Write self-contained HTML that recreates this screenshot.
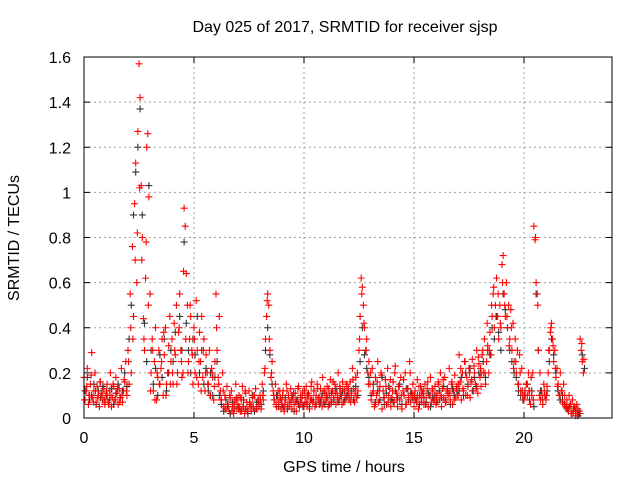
<!DOCTYPE html>
<html><head><meta charset="utf-8"><style>
body{margin:0;background:#fff}
svg{display:block;font-family:"Liberation Sans",sans-serif}
</style></head><body>
<svg id="chart" width="640" height="480">
<text x="345" y="32" font-size="16" text-anchor="middle">Day 025 of 2017, SRMTID for receiver sjsp</text>
<text x="344" y="472" font-size="16" text-anchor="middle">GPS time / hours</text>
<text x="19" y="238" font-size="16" text-anchor="middle" transform="rotate(-90 19 238)">SRMTID / TECUs</text>
<g id="grid"></g>
<g id="ticks"></g>
<g id="black"></g>
<g id="red"></g>
<rect x="84" y="57" width="528" height="361" fill="none" stroke="#000" stroke-width="1"/>
</svg>
<script>
const xTicks=[0,5,10,15,20];
const yTicks=[0,0.2,0.4,0.6,0.8,1,1.2,1.4,1.6];
const yTickLabels=["0","0.2","0.4","0.6","0.8","1","1.2","1.4","1.6"];
const redStep=0.05, redStart=0;
const redValues=[.18,.08,.12,.22,.06,.1,.15,.29,.09,.12,.2,.07,.14,.1,.05,.16,.11,.08,.13,.06,
.1,.15,.07,.12,.2,.05,.09,.14,.08,.18,.11,.06,.13,.09,.22,.07,.12,.16,.25,.1,
.3,.15,.55,.2,.76,.45,.95,1.13,.6,1.27,1.57,1.42,1.03,.8,.44,.3,.62,1.2,1.26,.98,
.55,.2,.35,.12,.25,.4,.08,.18,.3,.15,.22,.35,.1,.28,.4,.15,.2,.32,.45,.25,
.35,.15,.42,.28,.5,.2,.38,.55,.3,.18,.2,.93,.85,.64,.5,.25,.35,.45,.3,.15,
.4,.2,.52,.3,.15,.38,.25,.45,.18,.35,.12,.28,.2,.15,.3,.1,.22,.18,.08,.25,
.55,.3,.18,.45,.12,.08,.2,.05,.1,.04,.14,.06,.03,.09,.12,.05,.02,.08,.15,.04,
.06,.1,.03,.08,.14,.05,.02,.11,.07,.04,.12,.06,.03,.09,.05,.1,.13,.04,.08,.06,
.1,.04,.15,.08,.2,.35,.45,.55,.5,.3,.18,.25,.12,.08,.15,.05,.1,.07,.12,.04,
.06,.12,.03,.08,.15,.05,.1,.07,.13,.04,.09,.06,.11,.03,.08,.14,.05,.1,.07,.12,
.05,.09,.14,.06,.11,.04,.08,.16,.07,.12,.05,.1,.15,.08,.06,.13,.09,.18,.07,.11,
.08,.14,.05,.1,.17,.07,.12,.09,.15,.06,.11,.2,.08,.13,.1,.16,.07,.12,.09,.14,
.11,.08,.16,.1,.22,.13,.07,.18,.09,.12,.3,.45,.62,.58,.5,.4,.3,.35,.2,.25,
.15,.08,.22,.12,.05,.18,.1,.25,.07,.14,.2,.04,.12,.09,.17,.06,.22,.1,.13,.05,
.09,.16,.07,.23,.11,.05,.14,.08,.18,.04,.12,.1,.2,.06,.13,.09,.25,.07,.11,.15,
.05,.12,.08,.17,.04,.1,.14,.07,.11,.06,.15,.09,.13,.05,.1,.18,.07,.12,.08,.14,
.06,.11,.16,.08,.2,.05,.13,.09,.18,.07,.12,.1,.22,.08,.15,.06,.12,.19,.09,.14,
.1,.28,.16,.08,.2,.12,.25,.1,.18,.14,.22,.09,.16,.26,.12,.2,.15,.3,.11,.24,
.18,.14,.28,.2,.35,.15,.25,.32,.2,.38,.28,.45,.55,.4,.5,.62,.45,.35,.5,.4,
.68,.72,.55,.45,.6,.4,.5,.35,.48,.3,.42,.25,.35,.2,.3,.15,.28,.12,.22,.1,
.08,.12,.15,.1,.2,.12,.06,.1,.2,.85,.79,.6,.55,.3,.1,.08,.12,.06,.15,.1,
.08,.14,.2,.3,.38,.42,.35,.25,.3,.18,.22,.15,.1,.2,.12,.07,.15,.1,.05,.08,
.04,.1,.06,.02,.08,.03,.05,.01,.06,.04,.02,.35,.3,.25,.2];
const redBStep=0.1, redBStart=0.025;
const redBValues=[.08,.14,.1,.19,.07,.12,.09,.16,.11,.08,
.12,.06,.1,.15,.08,.13,.07,.1,.17,.12,
.25,.4,.35,.7,.82,1.02,.7,.35,.78,.5,
.12,.3,.08,.2,.15,.25,.38,.1,.2,.15,
.2,.3,.15,.4,.25,.65,.35,.2,.5,.28,
.35,.18,.25,.12,.3,.2,.15,.1,.2,.14,
.4,.15,.08,.12,.04,.06,.1,.03,.06,.08,
.04,.09,.05,.12,.03,.07,.05,.1,.04,.08,
.08,.1,.22,.52,.35,.2,.1,.06,.12,.09,
.1,.06,.12,.05,.08,.11,.07,.13,.06,.1,
.12,.07,.1,.14,.08,.06,.13,.09,.05,.12,
.1,.13,.07,.16,.11,.09,.14,.06,.12,.15,
.13,.07,.17,.11,.2,.35,.55,.42,.3,.15,
.2,.11,.06,.16,.12,.19,.09,.14,.07,.17,
.12,.2,.08,.14,.1,.17,.06,.13,.2,.1,
.1,.07,.14,.09,.12,.06,.16,.1,.13,.08,
.09,.15,.1,.17,.07,.13,.11,.16,.08,.13,
.15,.22,.13,.25,.1,.2,.17,.23,.13,.27,
.22,.3,.2,.42,.3,.5,.58,.45,.55,.42,
.6,.5,.45,.32,.4,.22,.25,.15,.2,.12,
.1,.15,.12,.18,.08,.8,.5,.2,.1,.12,
.1,.3,.4,.32,.22,.14,.1,.12,.06,.05,
.03,.06,.02,.04,.02,.03,.33,.26];
const blackStep=0.1, blackStart=0.05;
const blackValues=[.12,.18,.08,.1,.15,.06,.12,.09,.14,.07,
.1,.08,.13,.06,.11,.15,.09,.12,.2,.14,
.35,.5,.9,1.09,1.2,1.37,.9,.42,.25,1.03,
.3,.15,.22,.1,.28,.18,.35,.12,.2,.3,
.25,.38,.2,.45,.3,.78,.42,.3,.2,.35,
.28,.45,.2,.3,.15,.22,.12,.2,.1,.18,
.25,.1,.06,.03,.08,.05,.02,.07,.04,.09,
.05,.03,.08,.04,.02,.06,.1,.03,.07,.05,
.06,.12,.3,.4,.28,.15,.08,.1,.05,.08,
.05,.09,.04,.07,.1,.03,.08,.06,.09,.05,
.07,.1,.05,.08,.12,.06,.09,.07,.11,.06,
.09,.06,.11,.08,.13,.07,.1,.12,.08,.1,
.09,.12,.08,.14,.1,.25,.4,.28,.22,.18,
.1,.15,.07,.12,.08,.18,.06,.11,.14,.08,
.07,.12,.09,.15,.06,.1,.13,.08,.11,.09,
.08,.1,.06,.12,.09,.07,.11,.05,.09,.1,
.07,.12,.09,.14,.08,.11,.06,.13,.1,.12,
.12,.18,.1,.2,.15,.22,.12,.18,.14,.2,
.2,.25,.18,.3,.28,.4,.35,.45,.38,.3,
.55,.48,.4,.3,.25,.2,.18,.12,.1,.08,
.1,.15,.08,.12,.05,.55,.3,.12,.08,.1,
.12,.25,.35,.28,.2,.12,.08,.1,.06,.04,
.05,.02,.04,.03,.01,.02,.28,.22];

const X0=84,X1=612,Y0=418,Y1=57,XMAX=24,YMAX=1.6;
function xs(v){return X0+(X1-X0)*v/XMAX;}
function ys(v){return Y0-(Y0-Y1)*v/YMAX;}
const NS="http://www.w3.org/2000/svg";
function mk(tag,attrs,parent){const e=document.createElementNS(NS,tag);for(const k in attrs)e.setAttribute(k,attrs[k]);parent.appendChild(e);return e;}
const grid=document.getElementById('grid'),ticks=document.getElementById('ticks');
xTicks.forEach(t=>{
  const x=xs(t);
  if(t>0){const g=mk('line',{x1:x,x2:x,y1:Y1,y2:Y0,stroke:'#a0a0a0','stroke-dasharray':'2,3'},grid);
  
  }
  mk('line',{x1:x,x2:x,y1:Y0,y2:Y0-6,stroke:'#000'},ticks);
  mk('line',{x1:x,x2:x,y1:Y1,y2:Y1+6,stroke:'#000'},ticks);
  const l=mk('text',{x:x,y:Y0+25,'font-size':16,'text-anchor':'middle'},ticks);
  l.textContent=t;
  
  
});
yTicks.forEach((t,i)=>{
  const y=ys(t);
  if(t>0&&t<YMAX){const g=mk('line',{x1:X0,x2:X1,y1:y,y2:y,stroke:'#a0a0a0','stroke-dasharray':'2,3'},grid);
  
  }
  mk('line',{x1:X0,x2:X0+6,y1:y,y2:y,stroke:'#000'},ticks);
  mk('line',{x1:X1,x2:X1-6,y1:y,y2:y,stroke:'#000'},ticks);
  const l=mk('text',{x:X0-13,y:y+6,'font-size':16,'text-anchor':'end'},ticks);
  l.textContent=yTickLabels[i];
  
  
});
function plus(g,t,v,col){
  const x=xs(t),y=ys(v);
  const p=mk('path',{d:`M${x-3.5},${y}H${x+3.5}M${x},${y-3.5}V${y+3.5}`,stroke:col,'stroke-width':1.1,fill:'none'},g);
  
  
}
const bg=document.getElementById('black'),rg=document.getElementById('red');
blackValues.forEach((v,i)=>plus(bg,blackStart+i*blackStep,v,'#333'));
redBValues.forEach((v,i)=>plus(rg,redBStart+i*redBStep,v,'#ff0000'));
redValues.forEach((v,i)=>plus(rg,redStart+i*redStep,v,'#ff0000'));
</script>
</body></html>
